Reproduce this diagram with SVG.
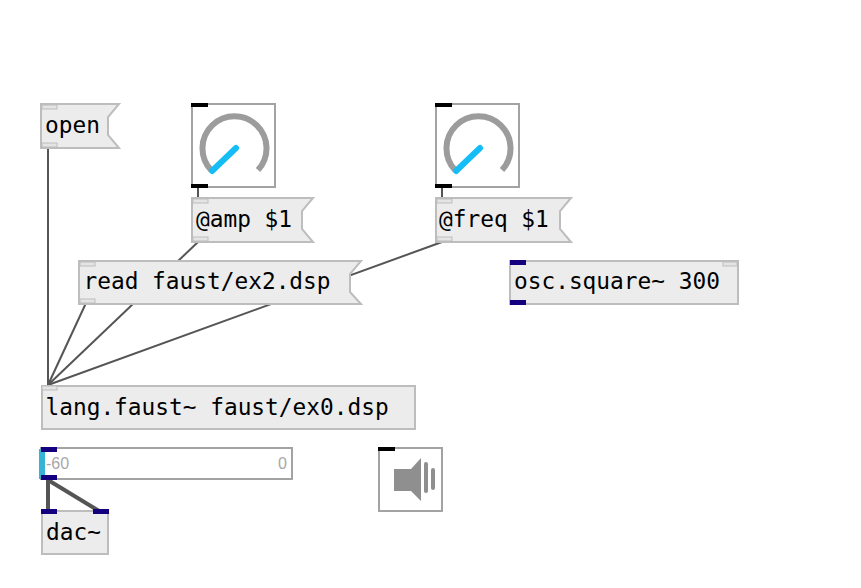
<svg xmlns="http://www.w3.org/2000/svg" width="861" height="588" viewBox="0 0 861 588">
<style>
.box{fill:#ececec;stroke:#bdbdbd;stroke-width:2}
.ctl{fill:#fff;stroke:#a3a3a3;stroke-width:2}
.t{font-family:"DejaVu Sans Mono",monospace;font-size:22.8px;fill:#000}
.gio{fill:#e4e4e4;stroke:#bdbdbd;stroke-width:1}
.bio{fill:#000}
.sio{fill:#14007f}
.w{fill:none;stroke:#555;stroke-width:2}
.sw{fill:none;stroke:#555;stroke-width:4}
.arc{fill:none;stroke:#9c9c9c;stroke-width:6}
.needle{fill:none;stroke:#14bdf5;stroke-width:6;stroke-linecap:round}
.lbl{font-family:"Liberation Sans",Arial,sans-serif;font-size:16px;fill:#a8a8a8}
</style>
<g id="connectors">
<path class="w" d="M48 148V385"/>
<path class="w" d="M198 242L48 385"/>
<path class="w" d="M442 242L48 385"/>
<path class="w" d="M86 303L48 385"/>
<path class="sw" d="M48 480V511"/>
<path class="sw" d="M48 480L99 511"/>
<path class="w" d="M198 187V197"/>
<path class="w" d="M442 187V197"/>
</g>
<g id="open">
<path class="box" d="M41 104H119L108 117V135L119 148H41Z"/>
<rect class="gio" x="42" y="105" width="15" height="4"/><rect class="gio" x="42" y="143" width="15" height="4"/>
<text class="t" x="45" y="133">open</text>
</g>
<g id="dial1">
<rect class="ctl" x="192" y="104" width="83" height="83"/>
<path class="arc" d="M211 170A32 32 0 1 1 258 170"/>
<path class="needle" d="M212 171L236 148"/>
<rect class="bio" x="191" y="103" width="17" height="4"/><rect class="bio" x="191" y="184" width="17" height="4"/>
</g>
<g id="dial2">
<rect class="ctl" x="436" y="104" width="83" height="83"/>
<path class="arc" d="M455 170A32 32 0 1 1 502 170"/>
<path class="needle" d="M456 171L480 148"/>
<rect class="bio" x="435" y="103" width="17" height="4"/><rect class="bio" x="435" y="184" width="17" height="4"/>
</g>
<g id="amp">
<path class="box" d="M192 198H313L302 211V229L313 242H192Z"/>
<rect class="gio" x="193" y="199" width="15" height="4"/><rect class="gio" x="193" y="237" width="15" height="4"/>
<text class="t" x="196" y="227">@amp $1</text>
</g>
<g id="freq">
<path class="box" d="M436 198H571L560 211V229L571 242H436Z"/>
<rect class="gio" x="437" y="199" width="15" height="4"/><rect class="gio" x="437" y="237" width="15" height="4"/>
<text class="t" x="439" y="227">@freq $1</text>
</g>
<g id="read">
<path class="box" d="M79 261H361L350 274V292L361 304H79Z"/>
<rect class="gio" x="80" y="262" width="15" height="4"/><rect class="gio" x="80" y="299" width="15" height="4"/>
<text class="t" x="83.500" y="289">read faust/ex2.dsp</text>
</g>
<g id="osc">
<rect class="box" x="510" y="261" width="228" height="43"/>
<rect class="sio" x="510" y="260" width="16" height="5"/><rect class="sio" x="510" y="300" width="16" height="5"/>
<rect class="gio" x="723" y="262" width="14" height="4"/>
<text class="t" x="514" y="289">osc.square~ 300</text>
</g>
<g id="faust">
<rect class="box" x="42" y="386" width="373" height="43"/>
<rect class="gio" x="42" y="386" width="15" height="4"/>
<text class="t" x="45.500" y="415">lang.faust~ faust/ex0.dsp</text>
</g>
<g id="gain">
<rect class="ctl" x="41" y="448" width="251" height="31"/>
<rect x="39" y="449" width="6" height="30" fill="#35b4d8"/>
<rect class="sio" x="41" y="447" width="16" height="5"/><rect class="sio" x="41" y="475" width="16" height="5"/>
<text class="lbl" x="46" y="469">-60</text>
<text class="lbl" x="287" y="469" text-anchor="end">0</text>
</g>
<g id="speaker">
<rect class="ctl" x="379" y="448" width="63" height="63"/>
<rect class="bio" x="378" y="447" width="17" height="4"/>
<path d="M394 469H411L421 458V501L411 491H394Z" fill="#8f8f8f"/>
<rect x="424" y="462" width="4" height="31" rx="2" fill="#8f8f8f"/>
<rect x="431" y="468" width="4" height="22" rx="2" fill="#8f8f8f"/>
</g>
<g id="dac">
<rect class="box" x="42" y="511" width="66" height="43"/>
<rect class="sio" x="41" y="509" width="16" height="5"/><rect class="sio" x="93" y="509" width="16" height="5"/>
<text class="t" x="46" y="540">dac~</text>
</g>
</svg>
